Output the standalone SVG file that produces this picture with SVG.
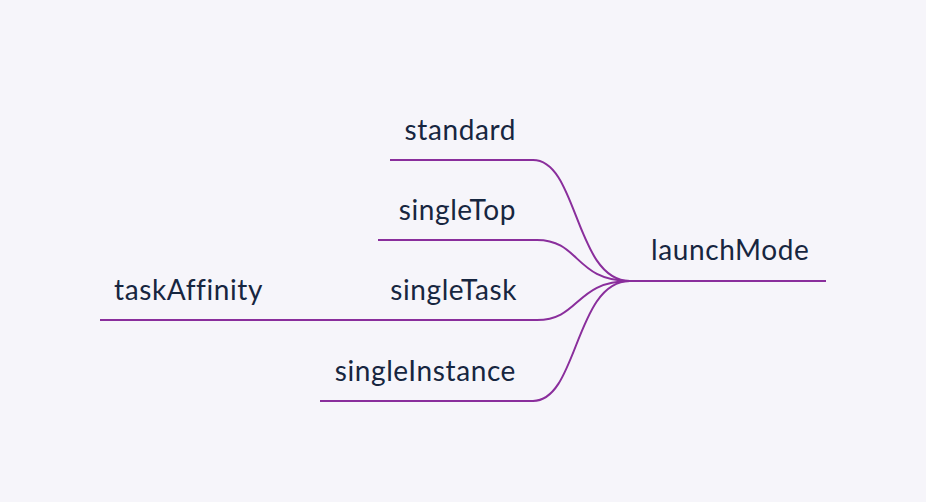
<svg xmlns="http://www.w3.org/2000/svg" width="926" height="502" viewBox="0 0 926 502">
<style>
.lbl{font-family:Lato,"Noto Sans",sans-serif;font-size:28px;letter-spacing:0.6px;fill:#172640}
.edge{fill:none;stroke:#8a2e9c;stroke-width:2}
</style>
<rect width="926" height="502" fill="#f6f5fa"/>
<g id="connectors">
<path class="edge" d="M533,160 C578,160 575,281 630,281"/>
<path class="edge" d="M537,240 C580,240 575,281 630,281"/>
<path class="edge" d="M537,320 C580,320 575,281 630,281"/>
<path class="edge" d="M533,401 C578,401 575,281 630,281"/>
</g>
<g id="launchMode"><line class="edge" x1="628" y1="281" x2="826" y2="281"/><text class="lbl" x="651" y="260">launchMode</text></g>
<g id="standard"><line class="edge" x1="390" y1="160" x2="534" y2="160"/><text class="lbl" x="516" y="140" text-anchor="end">standard</text></g>
<g id="singleTop"><line class="edge" x1="378" y1="240" x2="538" y2="240"/><text class="lbl" x="516" y="220" text-anchor="end">singleTop</text></g>
<g id="singleTask"><line class="edge" x1="320" y1="320" x2="538" y2="320"/><text class="lbl" x="517" y="300" text-anchor="end">singleTask</text></g>
<g id="singleInstance"><line class="edge" x1="320" y1="401" x2="534" y2="401"/><text class="lbl" x="516" y="381" text-anchor="end">singleInstance</text></g>
<g id="taskAffinity"><line class="edge" x1="100" y1="320" x2="321" y2="320"/><text class="lbl" x="114" y="300">taskAffinity</text></g>
</svg>
